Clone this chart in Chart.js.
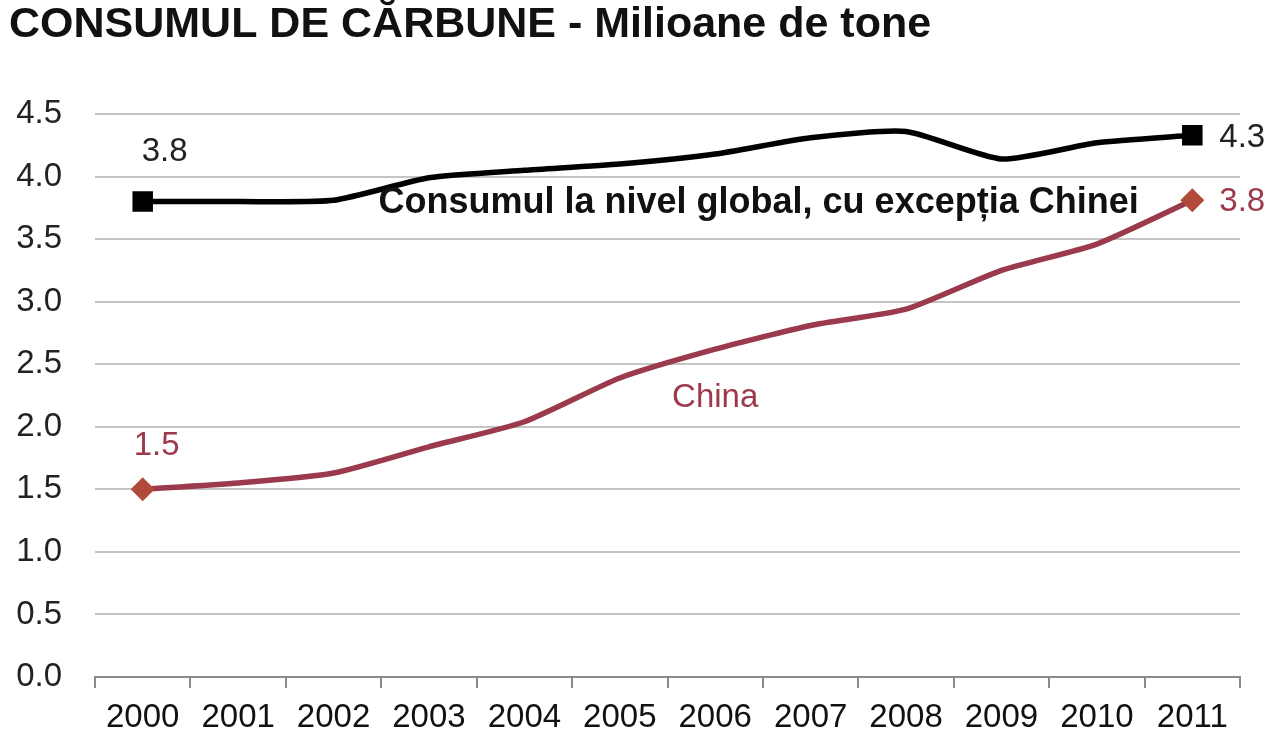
<!DOCTYPE html>
<html>
<head>
<meta charset="utf-8">
<script src="https://cdn.jsdelivr.net/npm/chart.js@4"></script>
<style>
  html, body { margin: 0; padding: 0; background: #fff; }
  #wrap { width: 1273px; height: 750px; position: relative; }
</style>
</head>
<body>
<div id="wrap"><canvas id="coalChart"></canvas></div>
<script>
const years = ['2000', '2001', '2002', '2003', '2004', '2005', '2006', '2007', '2008', '2009', '2010', '2011'];
const worldExChina = [3.8, 3.8, 3.81, 3.99, 4.05, 4.10, 4.18, 4.31, 4.36, 4.14, 4.27, 4.33];
const china = [1.5, 1.55, 1.63, 1.84, 2.04, 2.39, 2.62, 2.81, 2.94, 3.25, 3.46, 3.81];
const yTicks = [0, 0.5, 1, 1.5, 2, 2.5, 3, 3.5, 4, 4.5];

const titleText = 'CONSUMUL DE CĂRBUNE - Milioane de tone';
const worldName = 'Consumul la nivel global, cu excepția Chinei';
const chinaName = 'China';

const FONT = "'Liberation Sans', Arial, sans-serif";
const chinaColor = '#9a3a4c';
const chinaMarker = '#b24a3c';

// only first and last points get a marker
function endsOnly(arr, r) {
  return arr.map((v, i) => (i === 0 || i === arr.length - 1) ? r : 0);
}

// title, end value labels and series names
const textPlugin = {
  id: 'texts',
  afterDatasetsDraw(chart) {
    const { ctx, scales: { x, y } } = chart;
    const last = years.length - 1;
    ctx.save();
    ctx.textBaseline = 'middle';

    ctx.fillStyle = '#111';
    ctx.font = 'bold 43px ' + FONT;
    ctx.textAlign = 'left';
    ctx.fillText(titleText, 9, 25);

    ctx.font = '33px ' + FONT;
    ctx.textAlign = 'center';
    ctx.fillStyle = '#222';
    ctx.fillText(worldExChina[0].toFixed(1), x.getPixelForValue(0) + 22, y.getPixelForValue(worldExChina[0]) - 50);
    ctx.fillStyle = chinaColor;
    ctx.fillText(china[0].toFixed(1), x.getPixelForValue(0) + 14, y.getPixelForValue(china[0]) - 43);

    ctx.textAlign = 'left';
    ctx.fillStyle = '#222';
    ctx.fillText(worldExChina[last].toFixed(1), x.getPixelForValue(last) + 27, y.getPixelForValue(worldExChina[last]) + 3);
    ctx.fillStyle = chinaColor;
    ctx.fillText(china[last].toFixed(1), x.getPixelForValue(last) + 27, y.getPixelForValue(china[last]) + 2);

    ctx.fillStyle = '#111';
    ctx.font = 'bold 36px ' + FONT;
    ctx.fillText(worldName, x.getPixelForValue(2) + 45, y.getPixelForValue(3.79));

    ctx.fillStyle = chinaColor;
    ctx.font = '33px ' + FONT;
    ctx.textAlign = 'center';
    ctx.fillText(chinaName, x.getPixelForValue(6), y.getPixelForValue(2.23));
    ctx.restore();
  }
};

new Chart(document.getElementById('coalChart'), {
  type: 'line',
  data: {
    labels: years,
    datasets: [
      {
        label: worldName,
        data: worldExChina,
        borderColor: '#000',
        backgroundColor: '#000',
        borderWidth: 5.5,
        tension: 0.2,
        pointStyle: 'rect',
        pointRadius: endsOnly(worldExChina, 14.5),
        pointBorderWidth: 0
      },
      {
        label: chinaName,
        data: china,
        borderColor: chinaColor,
        backgroundColor: chinaMarker,
        borderWidth: 5.5,
        tension: 0.2,
        pointStyle: 'rectRot',
        pointRadius: endsOnly(china, 12),
        pointBorderWidth: 0
      }
    ]
  },
  options: {
    responsive: true,
    maintainAspectRatio: false,
    animation: false,
    layout: { padding: { top: 114, right: 33, bottom: 0, left: 0 } },
    plugins: {
      legend: { display: false },
      tooltip: { enabled: false }
    },
    scales: {
      x: {
        offset: true,
        afterFit(scale) { scale.height = 73; },
        grid: {
          offset: true,
          drawOnChartArea: false,
          drawTicks: true,
          tickLength: 11,
          color: '#8a8a8a',
          lineWidth: 2
        },
        border: { display: true, color: '#8a8a8a', width: 2 },
        ticks: { color: '#111', padding: 10, font: { family: FONT, size: 33 } }
      },
      y: {
        min: 0,
        max: 4.5,
        afterFit(scale) { scale.width = 95; },
        afterBuildTicks(scale) { scale.ticks = yTicks.map(v => ({ value: v })); },
        grid: { color: '#c4c4c4', lineWidth: 2, drawTicks: false },
        border: { display: false },
        ticks: {
          color: '#222',
          padding: 33,
          font: { family: FONT, size: 33 },
          callback: v => v.toFixed(1)
        }
      }
    }
  },
  plugins: [textPlugin]
});
</script>
</body>
</html>
